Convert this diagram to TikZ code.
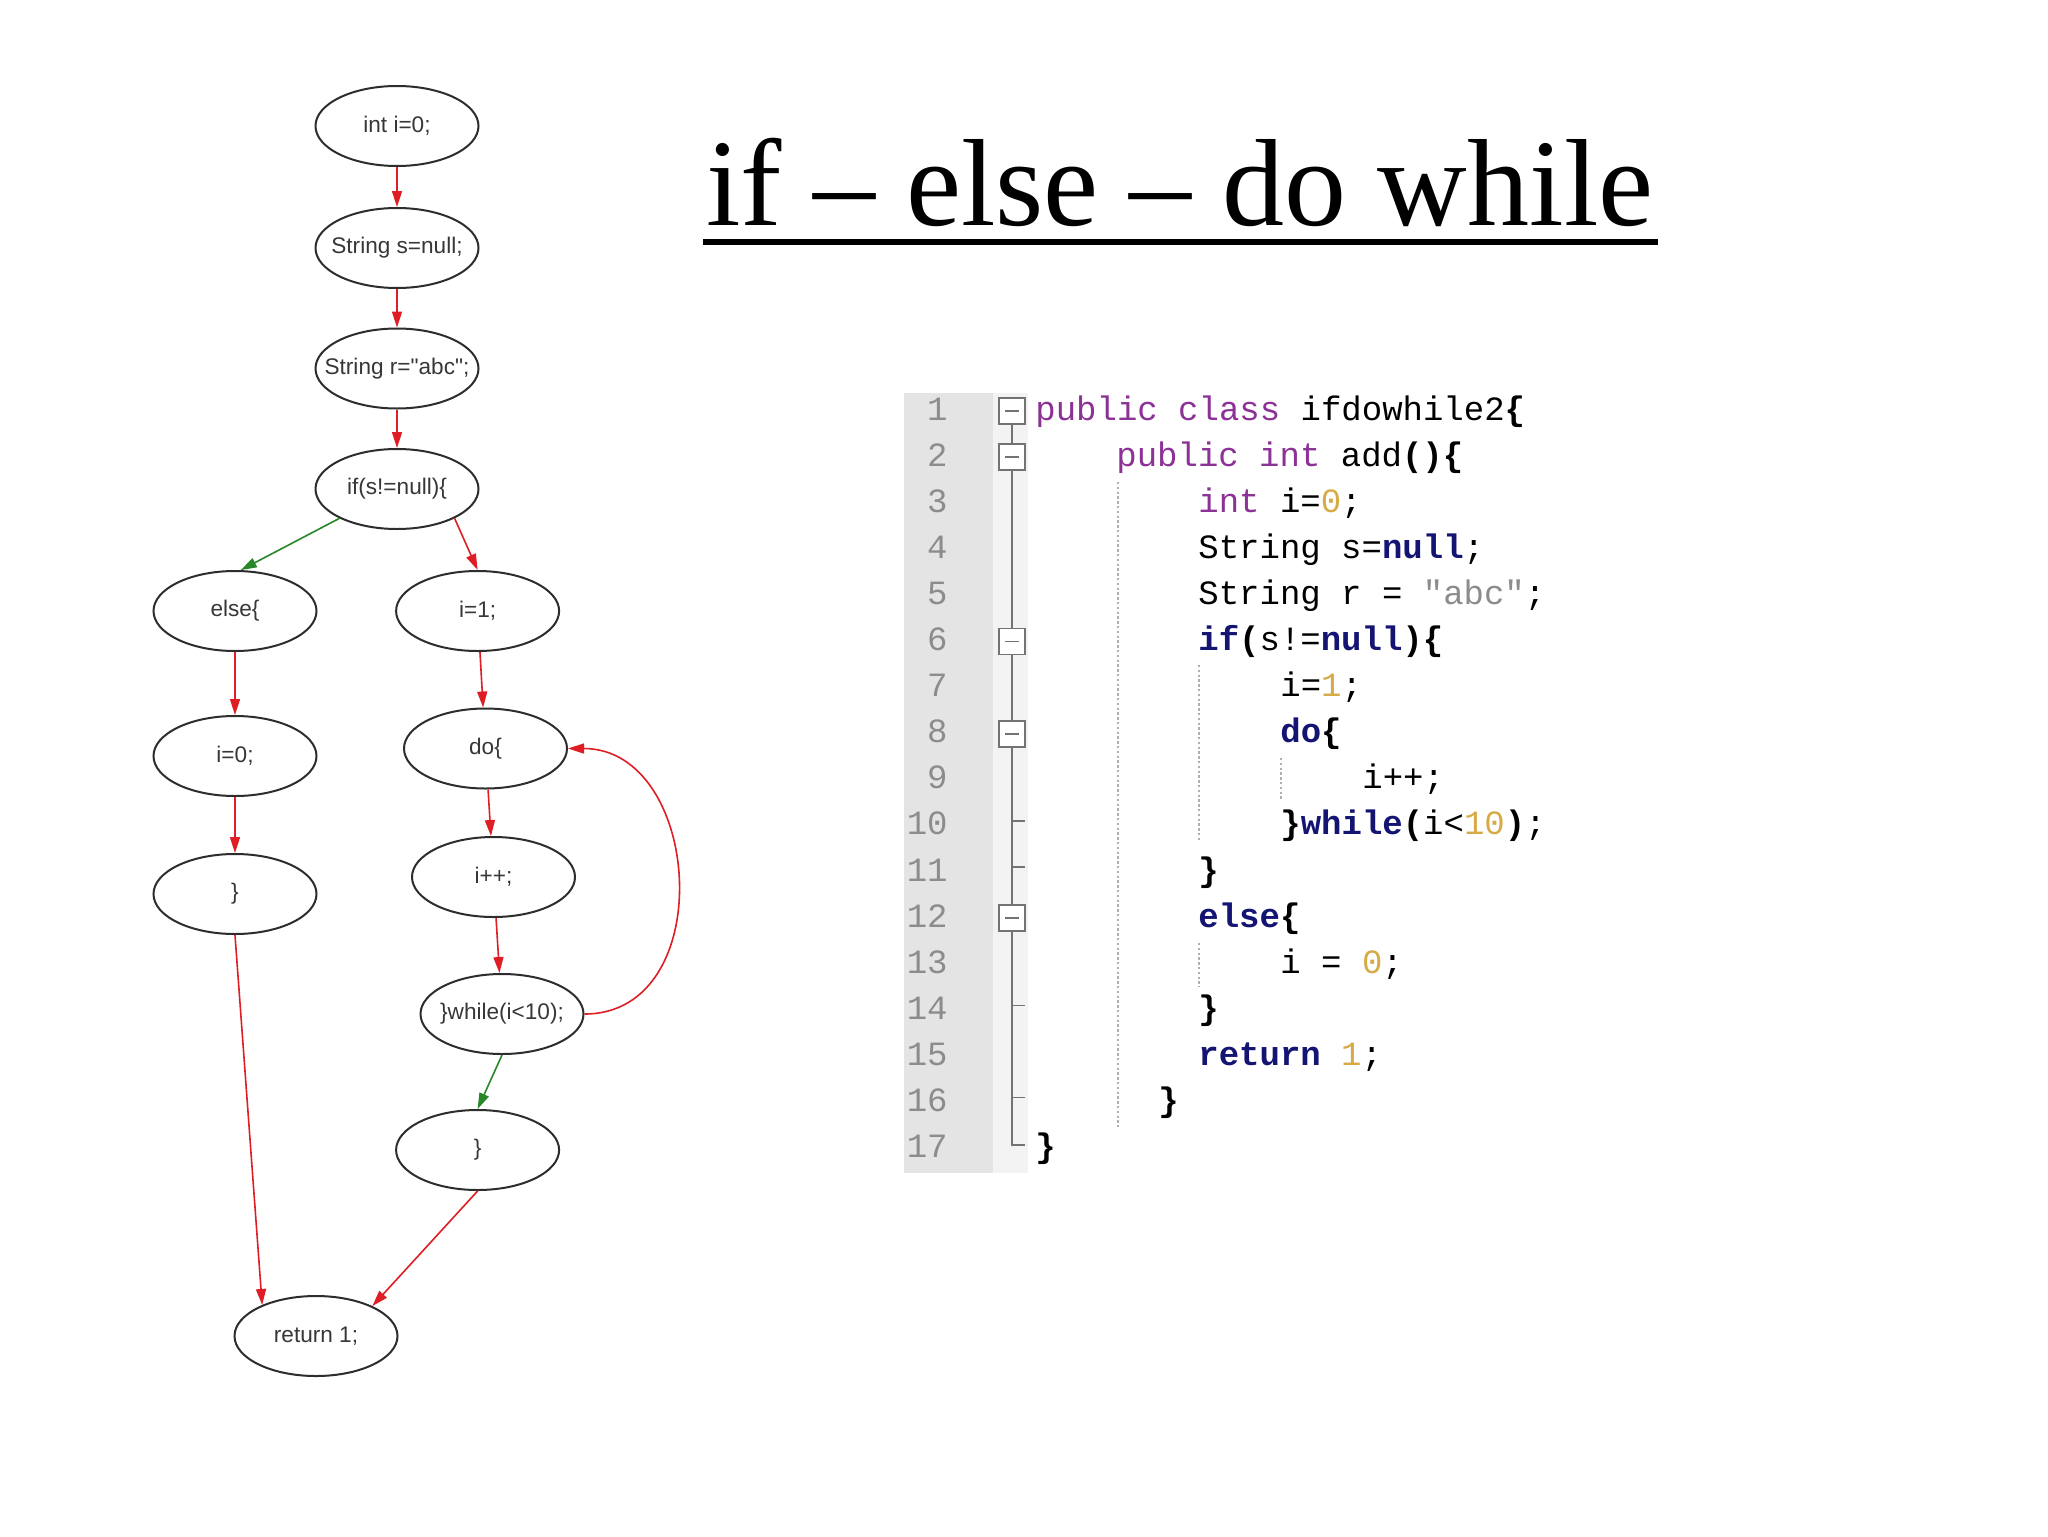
\documentclass[tikz,border=0pt]{standalone}
\usepackage{fontspec}
\setmainfont{Liberation Serif}
\newfontfamily\flowfont{Liberation Sans}
\newfontfamily\codefont{Liberation Mono}
\usetikzlibrary{shapes.geometric,arrows.meta}
\definecolor{cred}{RGB}{222,30,36}
\definecolor{cgreen}{RGB}{40,135,40}
\definecolor{edgegray}{RGB}{45,45,45}
\definecolor{txtgray}{RGB}{55,55,55}
\definecolor{cpurple}{RGB}{140,50,150}
\definecolor{cnavy}{RGB}{20,20,115}
\definecolor{cgold}{RGB}{215,170,70}
\definecolor{cstr}{RGB}{140,140,140}
\definecolor{lnum}{RGB}{140,140,140}
\definecolor{gutter}{RGB}{228,228,228}
\definecolor{gstrip}{RGB}{243,243,243}
\definecolor{foldgray}{RGB}{115,115,115}
\definecolor{guidegray}{RGB}{175,175,175}
\newcommand{\zw}[1]{\makebox[0pt][c]{#1}}
\newcommand{\kwd}[1]{\textcolor{cnavy}{\bfseries #1}}
\newcommand{\pur}[1]{\textcolor{cpurple}{#1}}
\newcommand{\cnum}[1]{\textcolor{cgold}{#1}}
\newcommand{\cstrg}[1]{\textcolor{cstr}{#1}}
\newcommand{\bpn}[1]{{\bfseries #1}}
\tikzset{
  flow/.style={ellipse, draw=edgegray, line width=1pt, minimum width=81.5pt,
    minimum height=40pt, inner sep=0pt, text=txtgray,
    font=\flowfont\fontsize{11.3pt}{13pt}\selectfont},
  redarrow/.style={draw=cred, line width=0.8pt, -{Triangle[length=8pt,width=5pt]}},
  greenarrow/.style={draw=cgreen, line width=0.8pt, -{Triangle[length=8pt,width=5pt]}},
  codeline/.style={anchor=base west, inner sep=0pt, text=black,
    font=\codefont\fontsize{17pt}{20pt}\selectfont},
  lnumstyle/.style={anchor=base east, inner sep=0pt, text=lnum,
    font=\codefont\fontsize{17pt}{20pt}\selectfont},
  foldline/.style={draw=foldgray, line width=0.8pt},
  guideline/.style={draw=guidegray, line width=0.6pt, dash pattern=on 1.2pt off 1.2pt}
}
\begin{document}
\begin{tikzpicture}[x=0.5pt,y=-0.5pt]
\useasboundingbox[fill=white] (0,0) rectangle (2048,1536);

% title
\node[anchor=base west, inner sep=0pt, font=\fontsize{62pt}{70pt}\selectfont] (title) at (706,225) {if – else – do while};
\fill[black] (703,238.5) rectangle (1658,244.5);

% flowchart nodes
\node[flow] (n1) at (397,126) {\zw{int i=0;}};
\node[flow] (n2) at (397,248) {\zw{String s=null;}};
\node[flow] (n3) at (397,368.5) {\zw{String r="abc";}};
\node[flow] (nif) at (397,489) {\zw{if(s!=null)\{}};
\node[flow] (nelse) at (235,611) {\zw{else\{}};
\node[flow] (ni1) at (477.6,611) {\zw{i=1;}};
\node[flow] (ni0) at (235,756) {\zw{i=0;}};
\node[flow] (ncl) at (235,894) {\zw{\}}};
\node[flow] (ndo) at (485.5,748.5) {\zw{do\{}};
\node[flow] (ninc) at (493.5,877) {\zw{i++;}};
\node[flow] (nwh) at (502,1014) {\zw{\}while(i<10);}};
\node[flow] (ncr) at (477.6,1150) {\zw{\}}};
\node[flow] (nret) at (316,1336) {\zw{return 1;}};

% flowchart edges
\draw[redarrow] (n1) -- (n2);
\draw[redarrow] (n2) -- (n3);
\draw[redarrow] (n3) -- (nif);
\draw[greenarrow] (nif.207) -- (nelse.82);
\draw[redarrow] (nif.333) -- (ni1.north);
\draw[redarrow] (nelse) -- (ni0);
\draw[redarrow] (ni0) -- (ncl);
\draw[redarrow] (ncl.south) -- (nret.150);
\draw[redarrow] (ni1) -- (ndo);
\draw[redarrow] (ndo) -- (ninc);
\draw[redarrow] (ninc) -- (nwh);
\draw[greenarrow] (nwh.south) -- (ncr.north);
\draw[redarrow] (ncr.south) -- (nret.28);
\draw[redarrow] (nwh.east) .. controls +(135,0) and +(135,0) .. (ndo.east);

% code panel background
\fill[gutter] (904,393) rectangle (993,1173);
\fill[gstrip] (993,393) rectangle (1028,1173);

% fold structure
\draw[foldline] (1012,424) -- (1012,1145) -- (1025,1145);
\foreach \k in {10,11,14,16} {
  \draw[foldline] (1012,{406+46.1*(\k-1)}) -- (1025,{406+46.1*(\k-1)});
}
\foreach \k in {1,2,6,8,12} {
  \draw[foldline, fill=white] (999,{411+46.1*(\k-1)-13}) rectangle (1025,{411+46.1*(\k-1)+13});
  \draw[foldline] (1005,{411+46.1*(\k-1)}) -- (1019,{411+46.1*(\k-1)});
}

% indent guides
\draw[guideline] (1118,482) -- (1118,1127);
\draw[guideline] (1199,665) -- (1199,840);
\draw[guideline] (1199,943) -- (1199,987);
\draw[guideline] (1281,758) -- (1281,800);

% line numbers
\foreach \k in {1,...,17} {
  \node[lnumstyle] (ln\k) at (948,{420+46.1*(\k-1)}) {\k};
}

% code lines
\node[codeline] (c1) at (1035,420) {\pur{public class} ifdowhile2\bpn{\{}};
\node[codeline] (c2) at (1116,466.1) {\pur{public int} add\bpn{()\{}};
\node[codeline] (c3) at (1198,512.2) {\pur{int} i=\cnum{0};};
\node[codeline] (c4) at (1198,558.3) {String s=\kwd{null};};
\node[codeline] (c5) at (1198,604.4) {String r = \cstrg{"abc"};};
\node[codeline] (c6) at (1198,650.5) {\kwd{if}\bpn{(}s!=\kwd{null}\bpn{)\{}};
\node[codeline] (c7) at (1280,696.6) {i=\cnum{1};};
\node[codeline] (c8) at (1280,742.7) {\kwd{do}\bpn{\{}};
\node[codeline] (c9) at (1362,788.8) {i++;};
\node[codeline] (c10) at (1280,834.9) {\bpn{\}}\kwd{while}\bpn{(}i<\cnum{10}\bpn{)};};
\node[codeline] (c11) at (1198,881.0) {\bpn{\}}};
\node[codeline] (c12) at (1198,927.1) {\kwd{else}\bpn{\{}};
\node[codeline] (c13) at (1280,973.2) {i = \cnum{0};};
\node[codeline] (c14) at (1198,1019.3) {\bpn{\}}};
\node[codeline] (c15) at (1198,1065.4) {\kwd{return} \cnum{1};};
\node[codeline] (c16) at (1158,1111.5) {\bpn{\}}};
\node[codeline] (c17) at (1035,1157.6) {\bpn{\}}};
\end{tikzpicture}
\end{document}
